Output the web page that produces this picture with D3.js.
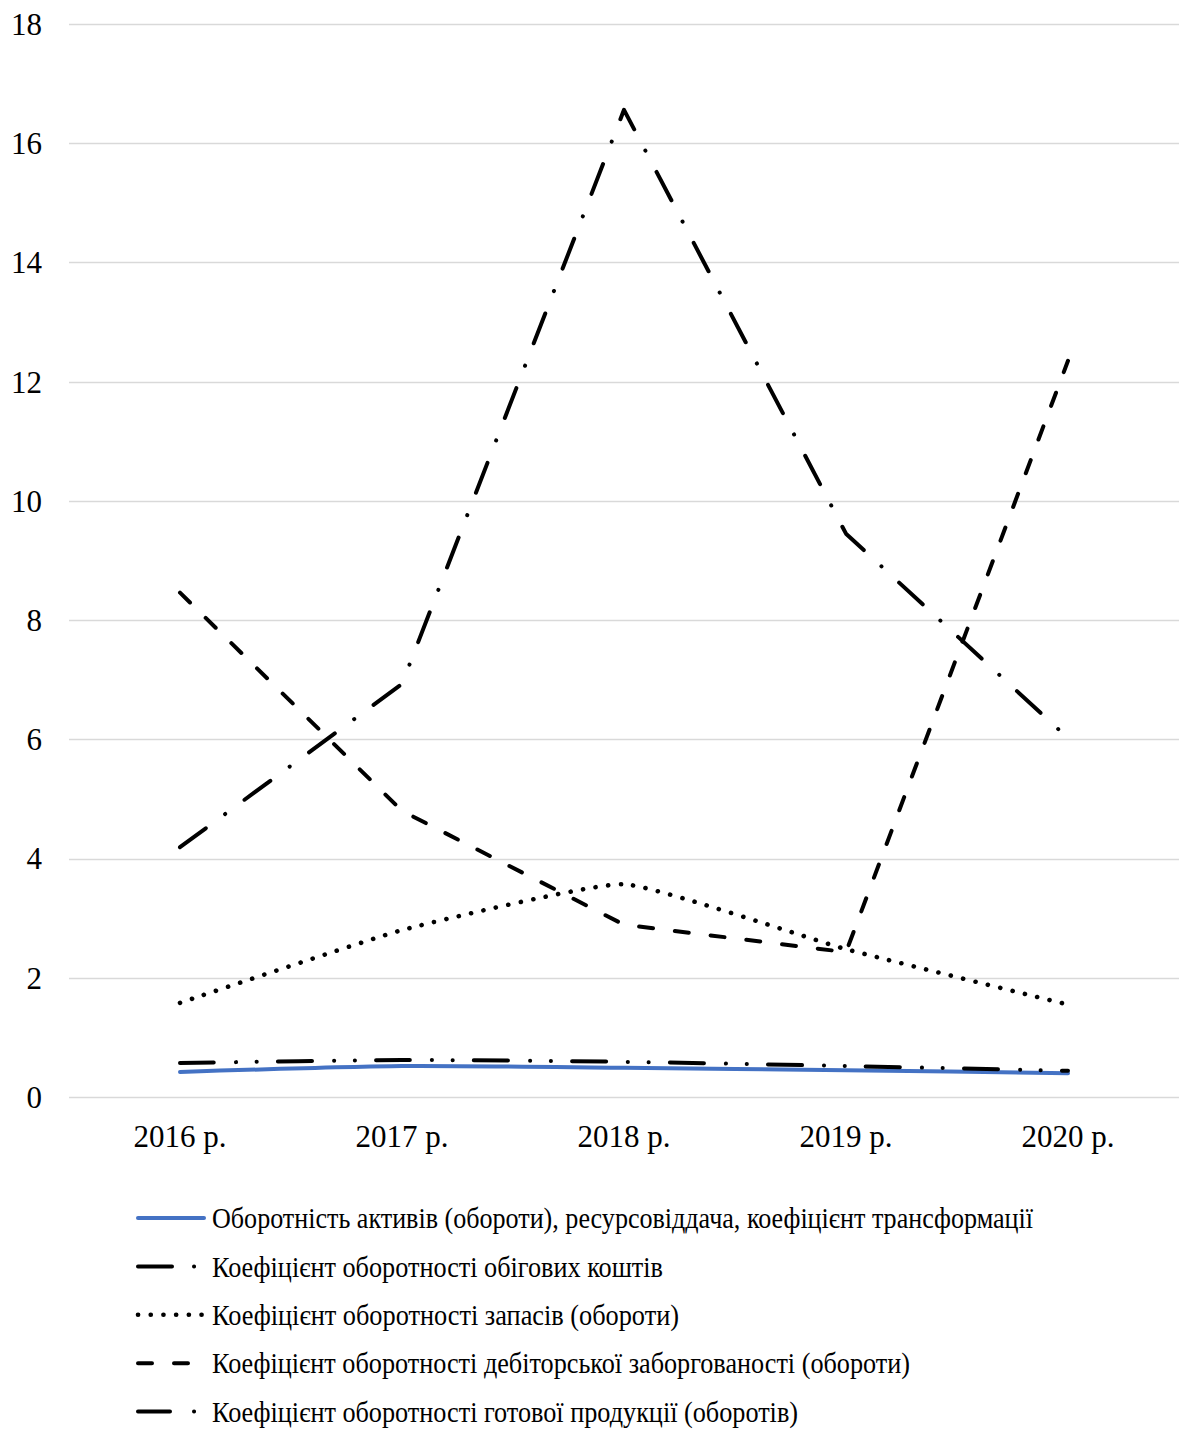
<!DOCTYPE html>
<html>
<head>
<meta charset="utf-8">
<script src="https://cdn.jsdelivr.net/npm/d3@7"></script>
<style>
  html, body { margin: 0; padding: 0; background: #fff; }
  svg { display: block; }
</style>
</head>
<body>
<svg id="chart" width="1179" height="1429"></svg>
<script>
// ---- Data ----
const years = ["2016 р.", "2017 р.", "2018 р.", "2019 р.", "2020 р."];
const yTicks = [0, 2, 4, 6, 8, 10, 12, 14, 16, 18];

const assetTurnover      = [0.42, 0.52, 0.49, 0.45, 0.40];
const currentAssetsTurn  = [0.57, 0.62, 0.59, 0.52, 0.44];
const inventoryTurn      = [1.58, 2.80, 3.57, 2.48, 1.55];
const receivablesTurn    = [8.46, 4.80, 2.89, 2.43, 12.35];
const finishedGoodsTurn  = [4.19, 6.93, 16.56, 9.45, 6.02];

const seriesNames = [
  "Оборотність активів (обороти), ресурсовіддача, коефіцієнт трансформації",
  "Коефіцієнт оборотності обігових коштів",
  "Коефіцієнт оборотності запасів (обороти)",
  "Коефіцієнт оборотності дебіторської заборгованості (обороти)",
  "Коефіцієнт оборотності готової продукції (оборотів)"
];

const FONT = "'Liberation Serif', 'Times New Roman', Times, 'DejaVu Serif', serif";

// ---- Styles ----
const styles = [
  { color: "#4472C4", width: 4,   dash: null,                      cap: "round", curve: d3.curveCardinal.tension(0.3) },
  { color: "#000",    width: 4,   dash: "34,22,0.1,20.6,0.1,21.2",  cap: "round", curve: d3.curveCardinal.tension(0.3) },
  { color: "#000",    width: 4.6, dash: "0.1,12.6",                 cap: "round", curve: d3.curveCardinal.tension(0.6) },
  { color: "#000",    width: 4,   dash: "14,22",                    cap: "round", curve: d3.curveLinear },
  { color: "#000",    width: 4,   dash: "32,24,0.1,24",             cap: "round", curve: d3.curveLinear }
];
const seriesData = [assetTurnover, currentAssetsTurn, inventoryTurn, receivablesTurn, finishedGoodsTurn];
const legendWidths = [821, 451, 467, 698, 586];

const svg = d3.select("#chart");

const x = d3.scaleBand().domain(years).range([69, 1179]);
const y = d3.scaleLinear().domain([0, 18]).range([1097, 24]);

// gridlines
svg.append("g").selectAll("line").data(yTicks).join("line")
  .attr("x1", 69).attr("x2", 1179)
  .attr("y1", d => Math.round(y(d)) + 0.5).attr("y2", d => Math.round(y(d)) + 0.5)
  .attr("stroke", "#d9d9d9").attr("stroke-width", 1.3);

// y tick labels
svg.append("g").selectAll("text").data(yTicks).join("text")
  .attr("x", 42).attr("y", d => y(d))
  .attr("dy", "0.35em")
  .attr("text-anchor", "end")
  .attr("font-family", FONT)
  .attr("font-size", 31)
  .text(d => d);

// x tick labels
svg.append("g").selectAll("text").data(years).join("text")
  .attr("x", d => x(d) + x.bandwidth() / 2)
  .attr("y", 1136)
  .attr("dy", "0.35em")
  .attr("text-anchor", "middle")
  .attr("font-family", FONT)
  .attr("font-size", 31)
  .text(d => d);

// lines
seriesData.forEach((vals, i) => {
  const st = styles[i];
  const line = d3.line()
    .x((d, j) => x(years[j]) + x.bandwidth() / 2)
    .y(d => y(d))
    .curve(st.curve);
  svg.append("path")
    .datum(vals)
    .attr("d", line)
    .attr("fill", "none")
    .attr("stroke", st.color)
    .attr("stroke-width", st.width)
    .attr("stroke-linecap", st.cap)
    .attr("stroke-linejoin", "round")
    .attr("stroke-dasharray", st.dash);
});

// legend
const legendY0 = 1218, legendStep = 48.4;
seriesNames.forEach((name, i) => {
  const st = styles[i];
  const ly = legendY0 + i * legendStep;
  svg.append("line")
    .attr("x1", 138).attr("x2", 204)
    .attr("y1", ly).attr("y2", ly)
    .attr("stroke", st.color)
    .attr("stroke-width", st.width)
    .attr("stroke-linecap", st.cap)
    .attr("stroke-dasharray", st.dash);
  svg.append("text")
    .attr("x", 212).attr("y", ly)
    .attr("dy", "0.35em")
    .attr("font-family", FONT)
    .attr("font-size", 29)
    .attr("textLength", legendWidths[i])
    .attr("lengthAdjust", "spacingAndGlyphs")
    .text(name);
});
</script>
</body>
</html>
